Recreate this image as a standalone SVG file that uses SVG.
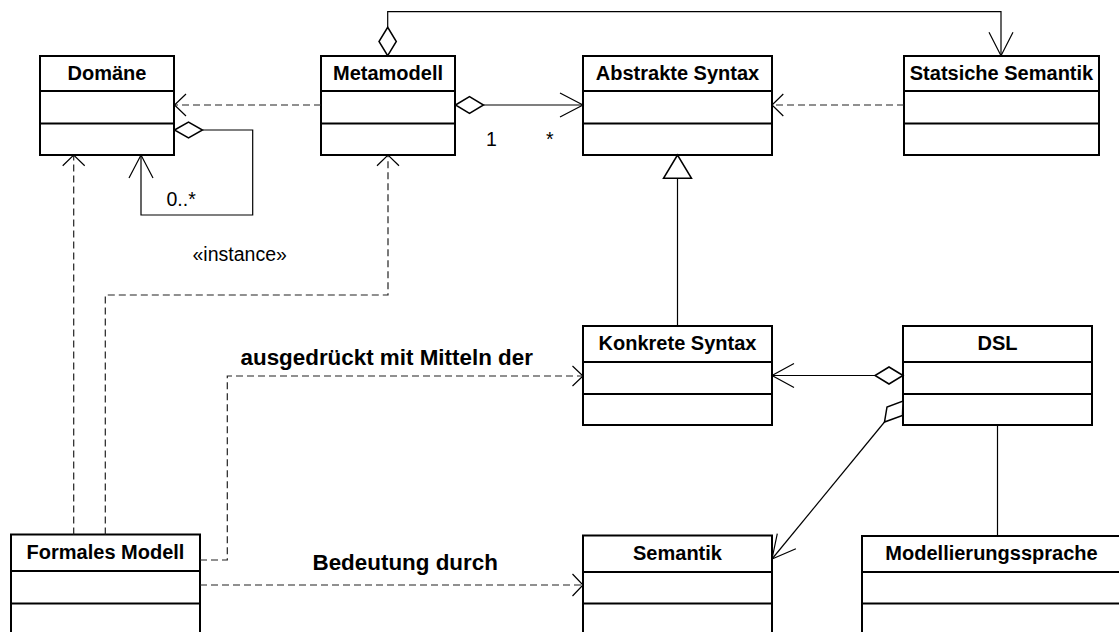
<svg xmlns="http://www.w3.org/2000/svg" width="1119" height="632" viewBox="0 0 1119 632">
  <style>
    .box{fill:#fff;stroke:#000;stroke-width:2}
    .sep{stroke:#000;stroke-width:2}
    .title{font-family:"Liberation Sans",Arial,sans-serif;font-size:20px;font-weight:bold;text-anchor:middle;fill:#000}
    .line{fill:none;stroke:#000;stroke-width:1.2}
    .dash{fill:none;stroke:#222;stroke-width:1.2;stroke-dasharray:7 4}
    .head{fill:none;stroke:#000;stroke-width:1.2}
    .dia{fill:#fff;stroke:#000;stroke-width:1.5;stroke-linejoin:miter}
    .tri{fill:#fff;stroke:#000;stroke-width:1.5}
    .lbl{font-family:"Liberation Sans",Arial,sans-serif;font-size:19.5px;fill:#000}
    .lblb{font-family:"Liberation Sans",Arial,sans-serif;font-size:22.4px;font-weight:bold;fill:#000}
  </style>
  <rect width="1119" height="632" fill="#fff"/>

  <!-- classes -->
  <g id="domaene">
    <rect class="box" x="40" y="56" width="134" height="99"/>
    <line class="sep" x1="40" y1="91" x2="174" y2="91"/>
    <line class="sep" x1="40" y1="123.5" x2="174" y2="123.5"/>
    <text class="title" x="107" y="80">Domäne</text>
  </g>
  <g id="metamodell">
    <rect class="box" x="321" y="56" width="134" height="99"/>
    <line class="sep" x1="321" y1="91" x2="455" y2="91"/>
    <line class="sep" x1="321" y1="123.5" x2="455" y2="123.5"/>
    <text class="title" x="388" y="80">Metamodell</text>
  </g>
  <g id="abstrakte-syntax">
    <rect class="box" x="583" y="56" width="189" height="99"/>
    <line class="sep" x1="583" y1="91" x2="772" y2="91"/>
    <line class="sep" x1="583" y1="123.5" x2="772" y2="123.5"/>
    <text class="title" x="677.5" y="80">Abstrakte Syntax</text>
  </g>
  <g id="statische-semantik">
    <rect class="box" x="904" y="56" width="195" height="99"/>
    <line class="sep" x1="904" y1="91" x2="1099" y2="91"/>
    <line class="sep" x1="904" y1="123.5" x2="1099" y2="123.5"/>
    <text class="title" x="1001.5" y="80">Statsiche Semantik</text>
  </g>
  <g id="konkrete-syntax">
    <rect class="box" x="583" y="326" width="189" height="99"/>
    <line class="sep" x1="583" y1="362" x2="772" y2="362"/>
    <line class="sep" x1="583" y1="394" x2="772" y2="394"/>
    <text class="title" x="677.5" y="350">Konkrete Syntax</text>
  </g>
  <g id="dsl">
    <rect class="box" x="903" y="326" width="189" height="99"/>
    <line class="sep" x1="903" y1="362" x2="1092" y2="362"/>
    <line class="sep" x1="903" y1="394" x2="1092" y2="394"/>
    <text class="title" x="997.5" y="350">DSL</text>
  </g>
  <g id="formales-modell">
    <rect class="box" x="11" y="534.5" width="189" height="110"/>
    <line class="sep" x1="11" y1="571" x2="200" y2="571"/>
    <line class="sep" x1="11" y1="603.5" x2="200" y2="603.5"/>
    <text class="title" x="105.5" y="559">Formales Modell</text>
  </g>
  <g id="semantik">
    <rect class="box" x="583" y="535.5" width="189" height="110"/>
    <line class="sep" x1="583" y1="572" x2="772" y2="572"/>
    <line class="sep" x1="583" y1="603.5" x2="772" y2="603.5"/>
    <text class="title" x="677.5" y="560">Semantik</text>
  </g>
  <g id="modellierungssprache">
    <rect class="box" x="862" y="536" width="259" height="110"/>
    <line class="sep" x1="862" y1="572" x2="1121" y2="572"/>
    <line class="sep" x1="862" y1="603.5" x2="1121" y2="603.5"/>
    <text class="title" x="991.5" y="560">Modellierungssprache</text>
  </g>

  <!-- relations -->
  <g id="connectors">
    <!-- Domäne self aggregation -->
    <polyline class="line" points="202.5,130 252.7,130 252.7,215 141,215 141,155"/>
    <polyline class="head" points="129,178 141,155 153,178"/>
    <polygon class="dia" points="174.5,130 188.5,122 202.5,130 188.5,138"/>
    <text class="lbl" x="166.5" y="205.5">0..*</text>

    <!-- Metamodell to Domäne -->
    <line class="dash" x1="321" y1="105" x2="175" y2="105"/>
    <polyline class="head" points="186,94 174.5,105 186,116"/>

    <!-- Metamodell aggregates Abstrakte Syntax -->
    <line class="line" x1="483.5" y1="105" x2="583" y2="105"/>
    <polyline class="head" points="560,93 583,105 560,117"/>
    <polygon class="dia" points="455.5,105 469.5,96.7 483.5,105 469.5,113.3"/>
    <text class="lbl" x="486" y="145.5">1</text>
    <text class="lbl" x="546" y="145.5">*</text>

    <!-- Metamodell aggregates Statsiche Semantik -->
    <polyline class="line" points="387.7,27.3 387.7,11.7 1001,11.7 1001,55.7"/>
    <polyline class="head" points="989,32.3 1001,55.7 1013,32.3"/>
    <polygon class="dia" points="387.7,55.7 396.3,41.5 387.7,27.3 379,41.5"/>

    <!-- Statsiche Semantik to Abstrakte Syntax -->
    <line class="dash" x1="904" y1="105" x2="773" y2="105"/>
    <polyline class="head" points="783.3,94 772,105 783.3,116"/>

    <!-- Konkrete Syntax generalizes Abstrakte Syntax -->
    <line class="line" x1="677.5" y1="178.3" x2="677.5" y2="326"/>
    <polygon class="tri" points="677.5,155 663.5,178.3 691.5,178.3"/>

    <!-- DSL aggregates Konkrete Syntax -->
    <line class="line" x1="875" y1="375.5" x2="772" y2="375.5"/>
    <polyline class="head" points="794,363.5 772,375.5 794,387.5"/>
    <polygon class="dia" points="903,375.5 889,367 875,375.5 889,384"/>

    <!-- DSL aggregates Semantik -->
    <line class="line" x1="884.5" y1="422" x2="772" y2="559"/>
    <polyline class="head" points="795.9,548.8 772,559 777.3,533.6"/>
    <polygon class="dia" points="884.5,422 887,407 903,401 902.5,415.5"/>

    <!-- DSL to Modellierungssprache -->
    <line class="line" x1="997.5" y1="425" x2="997.5" y2="536"/>

    <!-- Formales Modell to Domäne -->
    <line class="dash" x1="73.7" y1="534.5" x2="73.7" y2="156"/>
    <polyline class="head" points="62.7,165.7 73.7,155 84.7,165.7"/>

    <!-- Formales Modell instance of Metamodell -->
    <polyline class="dash" points="105.3,534.5 105.3,295 388,295 388,156"/>
    <polyline class="head" points="377,165.7 388,155 399,165.7"/>
    <text class="lbl" x="192.5" y="260.5">«instance»</text>

    <!-- Formales Modell to Konkrete Syntax -->
    <polyline class="dash" points="200,560 227.3,560 227.3,376 582,376"/>
    <polyline class="head" points="572.5,366 583,376 572.5,386"/>
    <text class="lblb" x="240.5" y="365">ausgedrückt mit Mitteln der</text>

    <!-- Formales Modell to Semantik -->
    <line class="dash" x1="200" y1="585" x2="582" y2="585"/>
    <polyline class="head" points="572.5,574 583,585 572.5,596"/>
    <text class="lblb" x="312.5" y="570">Bedeutung durch</text>
  </g>
</svg>
